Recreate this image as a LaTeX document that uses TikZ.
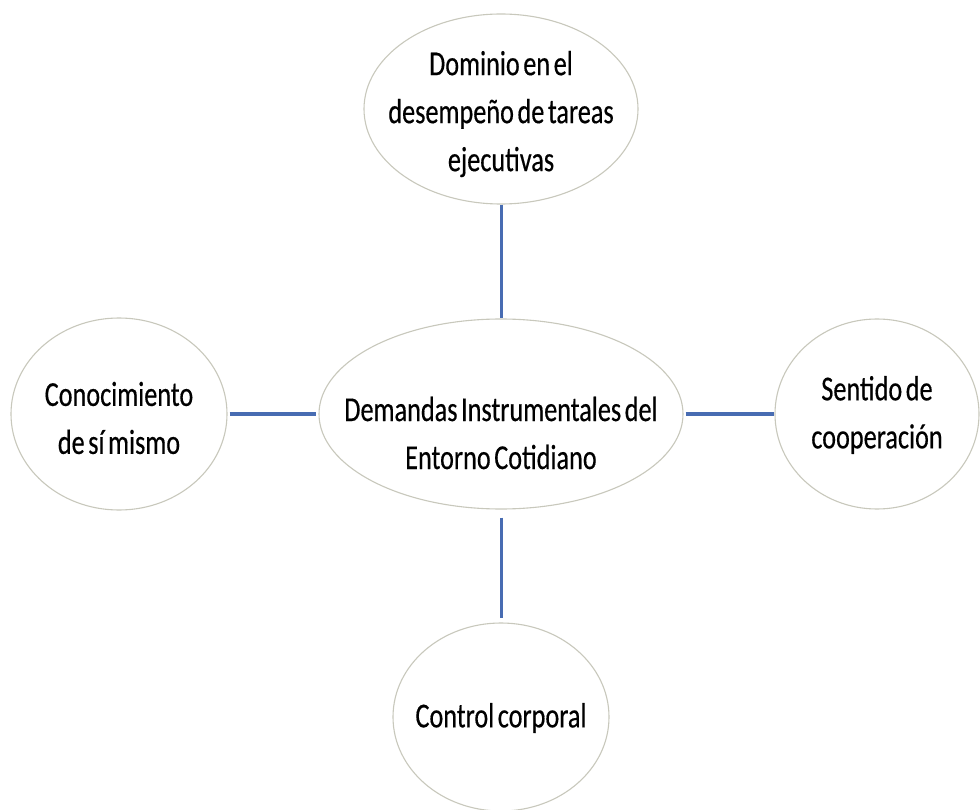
\documentclass[tikz,border=0pt]{standalone}
\usepackage{fontspec}
\setmainfont[FakeStretch=0.75,WordSpace=0.6,FakeBold=0.4]{Carlito}
\usetikzlibrary{shapes.geometric}
\definecolor{linkblue}{RGB}{72,108,178}
\definecolor{rim}{RGB}{200,200,188}
\begin{document}
\begin{tikzpicture}[x=1pt,y=-1pt,
  bubble/.style={ellipse,draw=rim,line width=1.1pt,fill=white,inner sep=0pt},
  lbl/.style={align=center,inner sep=0pt,font=\fontsize{35}{48}\selectfont},
  link/.style={draw=linkblue,line width=3pt}]
\useasboundingbox[fill=white] (0,0) rectangle (980,810);
\node[bubble,minimum width=274pt,minimum height=190pt] (top) at (501,109) {};
\node[bubble,minimum width=364pt,minimum height=190pt] (center) at (501,414) {};
\node[bubble,minimum width=216pt,minimum height=192pt] (left) at (119,414) {};
\node[bubble,minimum width=204pt,minimum height=190pt] (right) at (877,414) {};
\node[bubble,minimum width=216pt,minimum height=188pt] (bottom) at (501,717) {};
\node[lbl] (ttop) at (501,114) {Dominio en el\\desempeño de tareas\\ejecutivas};
\node[lbl] (tcenter) at (501,433) {Demandas Instrumentales del\\Entorno Cotidiano};
\node[lbl] (tleft) at (119,418) {Conocimiento\\de sí mismo};
\node[lbl] (tright) at (877,415) {Sentido de\\cooperación};
\node[lbl] (tbottom) at (501,718) {Control corporal};
\draw[link] (top) -- (center);
\draw[link,line width=4pt,shorten <=2pt,shorten >=2pt] (left) -- (center);
\draw[link,line width=4.5pt,shorten <=2pt] (center) -- (right);
\draw[link,shorten <=8pt,shorten >=4pt] (center) -- (bottom);
\end{tikzpicture}
\end{document}
